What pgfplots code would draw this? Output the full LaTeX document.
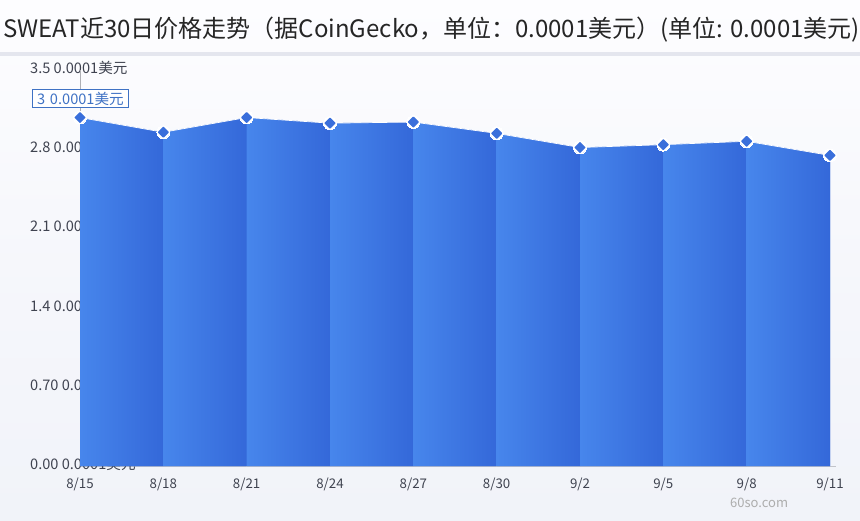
\documentclass[border=0pt]{standalone}
\usepackage{pgfplots}
\pgfplotsset{compat=1.18}
\usepackage{fontspec}
\setmainfont{Noto Sans CJK SC}
\definecolor{bgtop}{HTML}{FDFDFF}
\definecolor{bgbot}{HTML}{F1F3F9}
\definecolor{rulec}{HTML}{E4E6EE}
\definecolor{gridc}{HTML}{DFE1EA}
\definecolor{txt}{HTML}{3F4350}
\definecolor{segl}{HTML}{4786EC}
\definecolor{segr}{HTML}{3468D9}
\definecolor{markc}{HTML}{3A6FDB}
\definecolor{tipc}{HTML}{3F72C4}
\pgfplotsset{base/.style={
  scale only axis, width=750pt, height=396pt,
  at={(80pt,54pt)}, anchor=south west,
  xmin=0, xmax=9, ymin=0, ymax=3.5, clip=false}}
\tikzset{ylab/.style={anchor=west, inner sep=0pt, font=\fontsize{14.6}{16}\selectfont, text=txt, xshift=-50pt, yshift=2pt}}
\begin{document}
\begin{tikzpicture}[x=1pt,y=1pt]
\shade[bottom color=bgbot, top color=bgtop, middle color=bgtop!40!bgbot] (0,0) rectangle (860,520);
\path[use as bounding box] (0,0) rectangle (860,520);
\fill[rulec] (0,464) rectangle (860,467.5);
\node[anchor=west, inner sep=0pt, font=\fontsize{24}{26}\selectfont, text=black!85] at (3,490) {SWEAT近30日价格走势（据CoinGecko，单位：0.0001美元）(单位: 0.0001美元)};
\node[anchor=west, inner sep=0pt, font=\fontsize{13}{15}\selectfont, text=black!32] at (730,17) {60so.com};
\begin{axis}[base,
  axis x line=bottom, axis y line=none,
  axis line style={gridc!70!gray, -, shorten >=-6pt},
  xtick={0,1,...,9}, xticklabels={8/15,8/18,8/21,8/24,8/27,8/30,9/2,9/5,9/8,9/11},
  major tick length=0pt,
  xticklabel style={font=\fontsize{13.3}{15}\selectfont, text=txt, yshift=-8pt},
  ytick={0,0.7,1.4,2.1,2.8,3.5},
  ymajorgrids, grid style={gridc, line width=0.8pt},
]
\addplot[draw=none] coordinates {(0,0) (9,3.5)};
\node[ylab] at (axis cs:0,0) {0.00 0.0001美元};
\node[ylab] at (axis cs:0,0.7) {0.70 0.0001美元};
\node[ylab] at (axis cs:0,1.4) {1.4 0.0001美元};
\node[ylab] at (axis cs:0,2.1) {2.1 0.0001美元};
\node[ylab] at (axis cs:0,2.8) {2.8 0.0001美元};
\node[ylab] at (axis cs:0,3.5) {3.5 0.0001美元};
\end{axis}
\begin{axis}[base, hide axis]
\addplot[draw=none, fill=segr] coordinates {(0,3.08)(1,2.95)(2,3.08)(3,3.03)(4,3.04)(5,2.94)(6,2.815)(7,2.84)(8,2.87)(9,2.745)} \closedcycle;
\addplot[draw=none, left color=segl, right color=segr] coordinates {(0,3.08) (1,2.95)} \closedcycle;
\addplot[draw=none, left color=segl, right color=segr] coordinates {(1,2.95) (2,3.08)} \closedcycle;
\addplot[draw=none, left color=segl, right color=segr] coordinates {(2,3.08) (3,3.03)} \closedcycle;
\addplot[draw=none, left color=segl, right color=segr] coordinates {(3,3.03) (4,3.04)} \closedcycle;
\addplot[draw=none, left color=segl, right color=segr] coordinates {(4,3.04) (5,2.94)} \closedcycle;
\addplot[draw=none, left color=segl, right color=segr] coordinates {(5,2.94) (6,2.815)} \closedcycle;
\addplot[draw=none, left color=segl, right color=segr] coordinates {(6,2.815) (7,2.84)} \closedcycle;
\addplot[draw=none, left color=segl, right color=segr] coordinates {(7,2.84) (8,2.87)} \closedcycle;
\addplot[draw=none, left color=segl, right color=segr] coordinates {(8,2.87) (9,2.745)} \closedcycle;
\draw[gridc!50!gray, line width=0.8pt] (axis cs:0,3.5) -- (axis cs:0,3.08);
\addplot[white, line width=0.7pt] coordinates {(0,3.08)(1,2.95)(2,3.08)(3,3.03)(4,3.04)(5,2.94)(6,2.815)(7,2.84)(8,2.87)(9,2.745)};
\addplot[only marks, draw=white, fill=white, mark=*, mark size=6.4pt, mark options={draw=white, fill=white, line width=0pt}]
 coordinates {(0,3.08)(1,2.95)(2,3.08)(3,3.03)(4,3.04)(5,2.94)(6,2.815)(7,2.84)(8,2.87)(9,2.745)};
\addplot[only marks, draw=markc, fill=markc, mark=square*, mark size=3.4pt, mark options={rotate=45, fill=markc, draw=markc, line join=round, line width=1.3pt}]
 coordinates {(0,3.08)(1,2.95)(2,3.08)(3,3.03)(4,3.04)(5,2.94)(6,2.815)(7,2.84)(8,2.87)(9,2.745)};
\node[anchor=west, draw=tipc, fill=white, line width=0.8pt, text=tipc, inner sep=0pt, minimum height=18pt, text width=96pt, align=center, font=\fontsize{14.6}{16}\selectfont] at (axis cs:0,3.245) [xshift=-48pt] {3 0.0001美元};
\end{axis}
\end{tikzpicture}
\end{document}
